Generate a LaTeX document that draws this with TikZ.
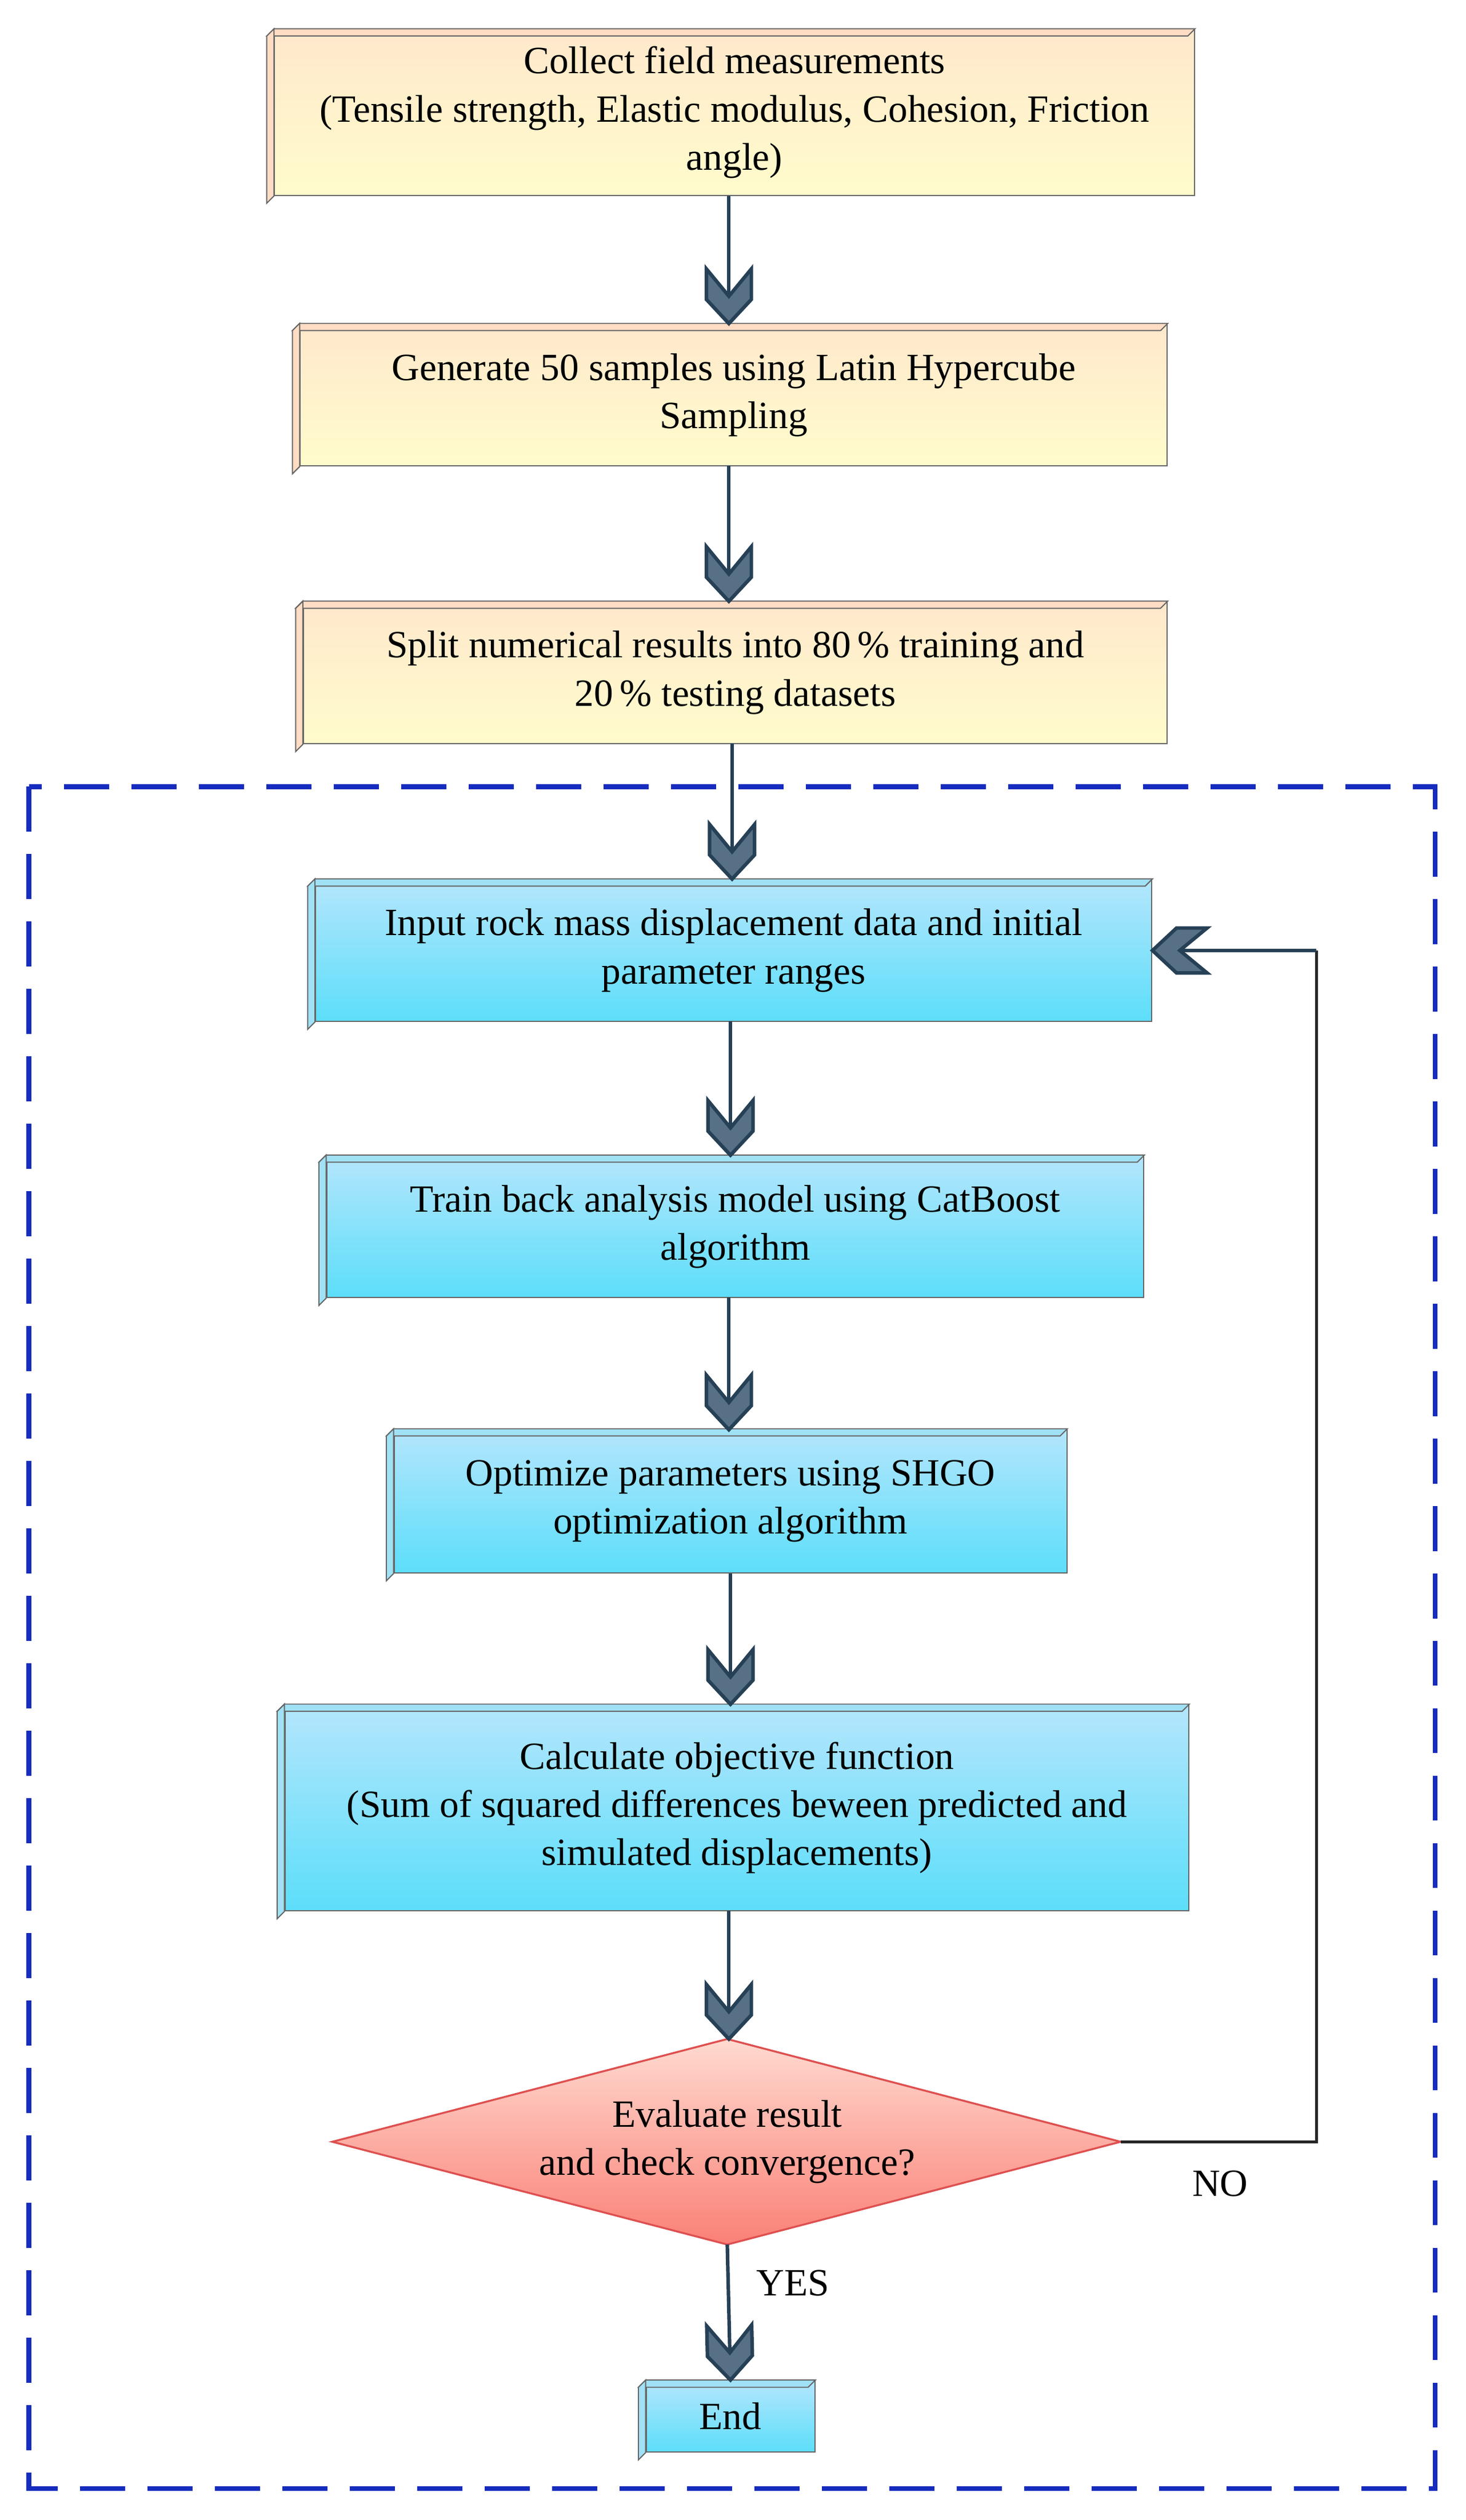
\documentclass[tikz,border=0pt]{standalone}
\usepackage{fontspec}
\setmainfont{Liberation Serif}
\usetikzlibrary{arrows.meta}
\definecolor{arrfill}{RGB}{88,112,134}
\definecolor{arrline}{RGB}{38,64,86}
\definecolor{yTop}{RGB}{255,232,204}
\definecolor{yBot}{RGB}{255,252,204}
\definecolor{yStrip}{RGB}{255,220,196}
\definecolor{bTop}{RGB}{180,230,252}
\definecolor{bBot}{RGB}{92,222,250}
\definecolor{bStrip}{RGB}{160,225,245}
\definecolor{dTop}{RGB}{255,218,208}
\definecolor{dBot}{RGB}{250,128,118}
\definecolor{dLine}{RGB}{222,80,80}
\definecolor{frameblue}{RGB}{22,44,190}
\pgfdeclarearrow{
  name=Chev,
  setup code={\pgfarrowssettipend{0pt}\pgfarrowssetlineend{-17pt}\pgfarrowssetbackend{-34pt}},
  drawing code={
    \pgfsetfillcolor{arrfill}\pgfsetmiterjoin
    \pgfpathmoveto{\pgfpoint{0pt}{0pt}}
    \pgfpathlineto{\pgfpoint{-15pt}{14pt}}
    \pgfpathlineto{\pgfpoint{-34pt}{14pt}}
    \pgfpathlineto{\pgfpoint{-17pt}{0pt}}
    \pgfpathlineto{\pgfpoint{-34pt}{-14pt}}
    \pgfpathlineto{\pgfpoint{-15pt}{-14pt}}
    \pgfpathclose
    \pgfusepathqfillstroke
  }
}
\newcommand\bevel[2]{%
  \filldraw[#2,draw=black!60,line width=0.7pt] (#1.north west) -- ++(-4.5,4.5) -- ([shift={(-4.5,4.5)}]#1.north east) -- (#1.north east) -- cycle;
  \filldraw[#2,draw=black!60,line width=0.7pt] (#1.north west) -- ++(-4.5,4.5) -- ([shift={(-4.5,4.5)}]#1.south west) -- (#1.south west) -- cycle;}
\begin{document}
\begin{tikzpicture}[x=1pt,y=-1pt,
  every node/.style={font=\fontsize{24}{30}\selectfont,text=black},
  ybox/.style={rectangle,draw=black!60,line width=0.7pt,top color=yTop,bottom color=yBot,align=center,inner sep=0pt},
  bbox/.style={rectangle,draw=black!60,line width=0.7pt,top color=bTop,bottom color=bBot,align=center,inner sep=0pt},
  arr/.style={draw=arrline,line width=2.2pt,-{Chev}},
  fb/.style={draw=black!85,line width=1.8pt}]
\useasboundingbox (0,0) rectangle (913,1569.6);
\fill[white] (0,0) rectangle (913,1569.6);
\draw[frameblue,line width=3pt,dash pattern=on 28pt off 14pt] (18,490) rectangle (894,1550);

\node[ybox,minimum width=573,minimum height=103.5] (n1) at (457.5,70) {Collect field measurements\\ (Tensile strength, Elastic modulus, Cohesion, Friction\\ angle)};
\bevel{n1}{yStrip}
\node[ybox,minimum width=540,minimum height=88.5] (n2) at (457,246) {Generate 50 samples using Latin Hypercube\\ Sampling};
\bevel{n2}{yStrip}
\node[ybox,minimum width=538,minimum height=88.5] (n3) at (458,419) {Split numerical results into 80\,\% training and\\ 20\,\% testing datasets};
\bevel{n3}{yStrip}
\node[bbox,minimum width=521,minimum height=88.5] (n4) at (457,592) {Input rock mass displacement data and initial\\ parameter ranges};
\bevel{n4}{bStrip}
\node[bbox,minimum width=509,minimum height=88.5] (n5) at (458,764) {Train back analysis model using CatBoost\\ algorithm};
\bevel{n5}{bStrip}
\node[bbox,minimum width=419,minimum height=89.5] (n6) at (455,935) {Optimize parameters using SHGO\\ optimization algorithm};
\bevel{n6}{bStrip}
\node[bbox,minimum width=563,minimum height=128.5] (n7) at (459,1126) {Calculate objective function\\ (Sum of squared differences beween predicted and\\ simulated displacements)};
\bevel{n7}{bStrip}
\node[bbox,minimum width=105,minimum height=44.5] (n9) at (455,1505) {End};
\bevel{n9}{bStrip}
\draw[dLine,line width=1.2pt,top color=dTop,bottom color=dBot] (207,1334) -- (453,1270) -- (698,1334) -- (453,1398) -- cycle;
\node[align=center] (n8) at (453,1334) {Evaluate result\\ and check convergence?};
\coordinate (d8e) at (698,1334);
\coordinate (d8s) at (453,1398);
\coordinate (d8n) at (453,1270);
\coordinate (c1) at (820,1334);
\coordinate (c2) at (820,592);

\draw[arr] (454,122) -- (454,201.5);
\draw[arr] (454,290) -- (454,374.5);
\draw[arr] (456,463) -- (456,547.5);
\draw[arr] (455,636) -- (455,719.5);
\draw[arr] (454,808) -- (454,890.5);
\draw[arr] (455,980) -- (455,1061.5);
\draw[arr] (454,1190) -- (454,1270);
\draw[arr] (d8s) -- (n9.north);
\draw[fb] (d8e) -- (c1) -- (c2);
\draw[arr] (c2) -- (n4.east);
\node (no) at (760,1360) {NO};
\node (yes) at (494,1422) {YES};
\end{tikzpicture}
\end{document}
